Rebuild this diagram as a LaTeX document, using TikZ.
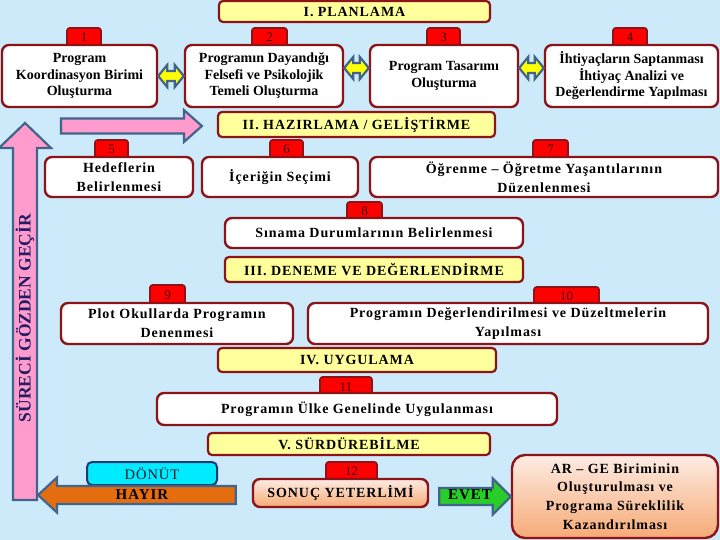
\documentclass[tikz,border=0pt]{standalone}
\usepackage{fontspec}
\setmainfont{Liberation Serif}
\newfontfamily\spc[LetterSpace=6.5]{Liberation Serif}
\usetikzlibrary{calc}
\definecolor{bgc}{RGB}{204,234,250}
\definecolor{boxred}{RGB}{140,20,25}
\definecolor{tabred}{RGB}{255,0,0}
\definecolor{numtxt}{RGB}{60,0,0}
\definecolor{phasey}{RGB}{255,255,155}
\definecolor{arrblue}{RGB}{65,100,140}
\definecolor{pinkf}{RGB}{255,155,205}
\definecolor{yellowf}{RGB}{255,255,0}
\definecolor{orangef}{RGB}{228,110,15}
\definecolor{greenf}{RGB}{40,205,40}
\definecolor{cyanf}{RGB}{0,235,255}
\definecolor{dnavy}{RGB}{30,60,110}
\definecolor{navytxt}{RGB}{35,30,100}
\definecolor{donuttxt}{RGB}{25,25,45}
\definecolor{peachtop}{RGB}{253,236,228}
\definecolor{peachbot}{RGB}{246,170,118}
% right-pointing arrow: start, tip, half shaft, half head, head length, style
\newcommand\myArrowR[6]{\path[#6] let \p1=(#1), \p2=(#2) in
  (\x1,{\y2+#3pt}) -- ({\x2-#5pt},{\y2+#3pt}) -- ({\x2-#5pt},{\y2+#4pt}) -- (\x2,\y2)
  -- ({\x2-#5pt},{\y2-#4pt}) -- ({\x2-#5pt},{\y2-#3pt}) -- (\x1,{\y2-#3pt}) -- cycle;}
% left-pointing arrow: start (right end), tip (left)
\newcommand\myArrowL[6]{\path[#6] let \p1=(#1), \p2=(#2) in
  (\x1,{\y2+#3pt}) -- ({\x2+#5pt},{\y2+#3pt}) -- ({\x2+#5pt},{\y2+#4pt}) -- (\x2,\y2)
  -- ({\x2+#5pt},{\y2-#4pt}) -- ({\x2+#5pt},{\y2-#3pt}) -- (\x1,{\y2-#3pt}) -- cycle;}
% up arrow: bottom, tip
\newcommand\myArrowU[6]{\path[#6] let \p1=(#1), \p2=(#2) in
  ({\x2-#3pt},\y1) -- ({\x2-#3pt},{\y2-#5pt}) -- ({\x2-#4pt},{\y2-#5pt}) -- (\x2,\y2)
  -- ({\x2+#4pt},{\y2-#5pt}) -- ({\x2+#3pt},{\y2-#5pt}) -- ({\x2+#3pt},\y1) -- cycle;}
% double horizontal arrow: left tip, right tip
\newcommand\myArrowD[6]{\path[#6] let \p1=(#1), \p2=(#2) in
  (\x1,\y1) -- ({\x1+#5pt},{\y1+#4pt}) -- ({\x1+#5pt},{\y1+#3pt}) -- ({\x2-#5pt},{\y1+#3pt})
  -- ({\x2-#5pt},{\y1+#4pt}) -- (\x2,\y1) -- ({\x2-#5pt},{\y1-#4pt}) -- ({\x2-#5pt},{\y1-#3pt})
  -- ({\x1+#5pt},{\y1-#3pt}) -- ({\x1+#5pt},{\y1-#4pt}) -- cycle;}
\begin{document}
\begin{tikzpicture}[x=1pt,y=-1pt,
  box/.style={draw=boxred, line width=2.4pt, rounded corners=7pt, fill=white, align=center,
    inner sep=1pt, font=\bfseries\fontsize{14}{16.5}\selectfont},
  sbox/.style={box, font=\spc\bfseries\fontsize{14}{19}\selectfont},
  tab/.style={draw=boxred, line width=1.6pt, rounded corners=2.5pt, fill=tabred, inner sep=0pt,
    font=\fontsize{13}{13}\selectfont, text=numtxt},
  phase/.style={draw=boxred, line width=2.2pt, rounded corners=4pt, fill=phasey, inner sep=0pt,
    font=\spc\bfseries\fontsize{14}{14}\selectfont},
  arrowline/.style={draw=arrblue, line width=2.2pt, line join=miter},
  shadebox/.style={sbox, top color=peachtop, bottom color=peachbot}
]
\fill[bgc] (0,0) rectangle (720,540);
\useasboundingbox (0,0) rectangle (720,540);

% vertical feedback arrow
\coordinate (vbot) at (25,500);
\coordinate (vtip) at (25,123);
\myArrowU{vbot}{vtip}{12}{26}{25}{arrowline, fill=pinkf}
\node[rotate=90, font=\bfseries\fontsize{17.5}{17.5}\selectfont, text=navytxt] (vtext) at (25,318) {SÜRECİ GÖZDEN GEÇİR};

% phase titles
\node[phase, minimum width=271, minimum height=21] (h1) at (354.5,11.5) {I. PLANLAMA};
\node[phase, minimum width=277, minimum height=25] (h2) at (356.5,124.5) {II. HAZIRLAMA / GELİŞTİRME};
\node[phase, minimum width=298, minimum height=25] (h3) at (374,269.5) {III. DENEME VE DEĞERLENDİRME};
\node[phase, minimum width=278, minimum height=24] (h4) at (357,360) {IV. UYGULAMA};
\node[phase, minimum width=282, minimum height=22] (h5) at (349,444) {V. SÜRDÜREBİLME};

% number tabs
\node[tab, minimum width=34, minimum height=19] (n1) at (84,37.5) {1};
\node[tab, minimum width=35, minimum height=19] (n2) at (269.5,37.5) {2};
\node[tab, minimum width=33, minimum height=19] (n3) at (443.5,37.5) {3};
\node[tab, minimum width=34, minimum height=19] (n4) at (630,37.5) {4};
\node[tab, minimum width=33, minimum height=19] (n5) at (111.5,149.5) {5};
\node[tab, minimum width=33, minimum height=19] (n6) at (286.5,149.5) {6};
\node[tab, minimum width=35, minimum height=19] (n7) at (550.5,149.5) {7};
\node[tab, minimum width=35, minimum height=18] (n8) at (364.5,211) {8};
\node[tab, minimum width=35, minimum height=20] (n9) at (167.5,295) {9};
\node[tab, minimum width=65, minimum height=18] (n10) at (566.5,296) {10};
\node[tab, minimum width=52, minimum height=20] (n11) at (346,387) {11};
\node[tab, minimum width=51, minimum height=19] (n12) at (351.5,471.5) {12};

% row 1 boxes
\node[box, minimum width=155, minimum height=62] (b1) at (79.5,76) {Program\\Koordinasyon Birimi\\Oluşturma};
\node[box, minimum width=158, minimum height=62] (b2) at (264,76) {Programın Dayandığı\\Felsefi ve Psikolojik\\Temeli Oluşturma};
\node[box, minimum width=148, minimum height=62] (b3) at (444,76) {Program Tasarımı\\Oluşturma};
\node[box, minimum width=173, minimum height=62] (b4) at (631.5,76) {İhtiyaçların Saptanması\\İhtiyaç Analizi ve\\Değerlendirme Yapılması};

% double arrows
\myArrowD{b1.east}{b2.west}{5}{11}{9}{arrowline, fill=yellowf}
\myArrowD{$(b2.east)+(0,-8)$}{$(b3.west)+(0,-8)$}{5}{11}{9}{arrowline, fill=yellowf}
\myArrowD{$(b3.east)+(0,-8)$}{$(b4.west)+(0,-8)$}{5}{11}{9}{arrowline, fill=yellowf}

% pink horizontal arrow
\coordinate (hstart) at (61,126);
\myArrowR{hstart}{$(h2.west)+(-15,1.5)$}{7.5}{16}{18}{arrowline, fill=pinkf}

% row 2
\node[sbox, minimum width=148, minimum height=40] (b5) at (119,177) {Hedeflerin\\Belirlenmesi};
\node[sbox, minimum width=156, minimum height=40] (b6) at (280,177) {İçeriğin Seçimi};
\node[sbox, minimum width=348, minimum height=40] (b7) at (544,177) {Öğrenme – Öğretme Yaşantılarının\\Düzenlenmesi};

% row 3
\node[sbox, minimum width=298, minimum height=30] (b8) at (374,233) {Sınama Durumlarının Belirlenmesi};

% row 4
\node[sbox, minimum width=232, minimum height=41] (b9) at (177,323.5) {Plot Okullarda Programın\\Denenmesi};
\node[sbox, minimum width=400, minimum height=41] (b10) at (508,323.5) {Programın Değerlendirilmesi ve Düzeltmelerin\\Yapılması};

% row 5
\node[sbox, minimum width=400, minimum height=32] (b11) at (357,409) {Programın Ülke Genelinde Uygulanması};

% bottom row
\node[shadebox, minimum width=175, minimum height=28, font=\spc\bfseries\fontsize{14}{14}\selectfont] (b12) at (340.5,493) {SONUÇ YETERLİMİ};
\node[shadebox, minimum width=206, minimum height=83, rounded corners=13pt, font=\spc\bfseries\fontsize{14}{18.7}\selectfont] (arge) at (615,496.5) {AR – GE Biriminin\\Oluşturulması ve\\Programa Süreklilik\\Kazandırılması};
\node[draw=dnavy, line width=2pt, rounded corners=5pt, fill=cyanf, minimum width=130, minimum height=23, inner sep=0pt,
  font=\spc\fontsize{14.5}{14.5}\selectfont, text=donuttxt] (donut) at (152,473.5) {DÖNÜT};

% HAYIR arrow (back to the feedback arrow)
\coordinate (hayirtip) at (38,495);
\myArrowL{$(b12.west)+(-16,2)$}{hayirtip}{9}{17.5}{19}{arrowline, fill=orangef}
\node[font=\spc\bfseries\fontsize{15}{15}\selectfont] (hayir) at (142,495) {HAYIR};

% EVET arrow
\myArrowR{$(b12.east)+(10,1.5)$}{arge.west}{8.5}{18}{18}{arrowline, fill=greenf}
\node[font=\spc\bfseries\fontsize{15}{15}\selectfont] (evet) at (470,495) {EVET};
\end{tikzpicture}
\end{document}
